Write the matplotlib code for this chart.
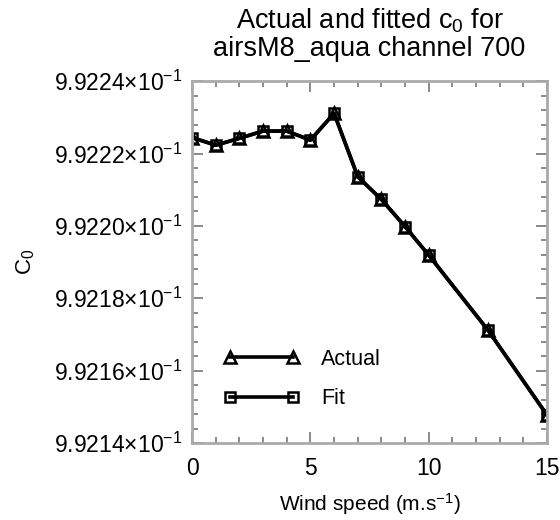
import numpy as np
import matplotlib
matplotlib.use("Agg")
import matplotlib.pyplot as plt
from matplotlib.ticker import MultipleLocator, FuncFormatter

plt.rcParams['font.family'] = ['Liberation Sans', 'DejaVu Sans']
plt.rcParams['mathtext.fontset'] = 'custom'
plt.rcParams['mathtext.rm'] = 'Liberation Sans'
plt.rcParams['mathtext.it'] = 'Liberation Sans'
plt.rcParams['mathtext.default'] = 'regular'

# wind speed (m/s) and c0 coefficient
wind = [0, 1, 2, 3, 4, 5, 6, 7, 8, 9, 10, 12.5, 15]
c0_actual = [0.9922244, 0.9922223, 0.9922242, 0.9922262, 0.9922262, 0.9922237,
             0.9922311, 0.9922136, 0.9922073, 0.9921998, 0.9921919, 0.9921712,
             0.9921477]
c0_fit = [0.9922244, 0.9922223, 0.9922242, 0.9922262, 0.9922262, 0.9922237,
          0.9922311, 0.9922136, 0.9922073, 0.9921998, 0.9921919, 0.9921712,
          0.9921477]

fig = plt.figure(figsize=(5.6, 5.2), dpi=100)
ax = fig.add_axes([0.343, 0.148, 0.634, 0.696])

ax.plot(wind, c0_actual, color='black', lw=2.6, marker='^', ms=8.5,
        mfc='none', mew=1.8, label='Actual')
ax.plot(wind, c0_fit, color='black', lw=2.6, marker='s', ms=7,
        mfc='none', mew=1.8, label='Fit')

ax.set_xlim(0, 15)
ax.set_ylim(0.99214, 0.99224)
ax.xaxis.set_major_locator(MultipleLocator(5))
ax.xaxis.set_minor_locator(MultipleLocator(1))
ax.yaxis.set_major_locator(MultipleLocator(0.00002))
ax.yaxis.set_minor_locator(MultipleLocator(0.000004))

def sci_fmt(v, pos):
    return '%.4f\u00d710$^{-1}$' % (v * 10)

ax.yaxis.set_major_formatter(FuncFormatter(sci_fmt))

ax.tick_params(which='both', direction='in', top=True, right=True,
               color='#777777', width=1.2)
ax.tick_params(which='major', length=8, labelsize=16.5)
ax.tick_params(which='minor', length=4)
ax.tick_params(axis='x', pad=10)
ax.tick_params(axis='y', pad=7)
for s in ax.spines.values():
    s.set_color('#aaaaaa')
    s.set_linewidth(2)

ax.set_title('Actual and fitted c$_0$ for\nairsM8_aqua channel 700',
             fontsize=19.5, pad=18, linespacing=1.05)
ax.set_xlabel('Wind speed (m.s$^{-1}$)', fontsize=15, labelpad=8)
ax.set_ylabel('C$_0$', fontsize=16, labelpad=12)

leg = ax.legend(loc='lower left', bbox_to_anchor=(0.035, 0.04), frameon=False,
                fontsize=15.5, handlelength=3.5, handletextpad=1.0,
                labelspacing=0.85, numpoints=2)

fig.savefig('out.png', dpi=100)
